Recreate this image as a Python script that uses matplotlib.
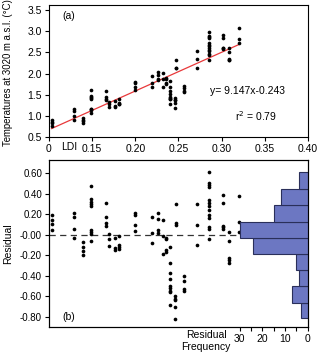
import matplotlib
matplotlib.use('Agg')
import numpy as np
import matplotlib.pyplot as plt
from matplotlib.ticker import FixedLocator, FixedFormatter, MultipleLocator

plt.rcParams['font.family'] = ['Liberation Sans', 'DejaVu Sans']
plt.rcParams['font.size'] = 7

# 数据：LDI 值、温度（°C）与残差，按簇读取
ldi = [0.103] * 4 + [0.129] * 4 + [0.139] * 4 + [0.149] * 9 + [0.166] * 4 + \
      [0.170] * 3 + [0.177] * 3 + [0.181] * 4 + [0.200] * 4 + [0.219] * 3 + \
      [0.226] * 4 + [0.232] * 3 + [0.236] * 4 + [0.240] * 9 + [0.246] * 5 + \
      [0.247] * 3 + [0.257] * 4 + [0.272] * 3 + [0.286] * 13 + [0.302] * 5 + \
      [0.309] * 5 + [0.320] * 3

temps = [0.90, 0.85, 0.82, 0.76,
         1.15, 1.11, 1.00, 0.91,
         0.96, 0.91, 0.87, 0.83,
         1.60, 1.47, 1.44, 1.42, 1.40, 1.17, 1.15, 1.13, 1.06,
         1.59, 1.45, 1.40, 1.37,
         1.32, 1.27, 1.20,
         1.34, 1.24, 1.22,
         1.40, 1.31, 1.29, 1.27,
         1.79, 1.77, 1.68, 1.62,
         1.93, 1.78, 1.68,
         2.03, 1.97, 1.87, 1.84,
         2.02, 1.87, 1.69,
         1.89, 1.88, 1.77, 1.75,
         1.83, 1.68, 1.58, 1.52, 1.45, 1.43, 1.40, 1.39, 1.27,
         1.41, 1.38, 1.37, 1.31, 1.19,
         2.32, 2.14, 2.12,
         1.71, 1.66, 1.58, 1.56,
         2.54, 2.34, 2.14,
         2.98, 2.88, 2.86, 2.84, 2.71, 2.68, 2.65, 2.61, 2.56, 2.53, 2.45, 2.43, 2.33,
         2.91, 2.83, 2.61, 2.60, 2.58,
         2.61, 2.52, 2.35, 2.33, 2.31,
         3.07, 2.82, 2.72]

residuals = [0.19, 0.14, 0.11, 0.05,
             0.21, 0.17, 0.06, -0.03,
             -0.07, -0.12, -0.16, -0.20,
             0.48, 0.35, 0.32, 0.30, 0.28, 0.05, 0.03, 0.01, -0.06,
             0.31, 0.17, 0.12, 0.09,
             0.01, -0.04, -0.11,
             -0.03, -0.13, -0.15,
             -0.01, -0.10, -0.12, -0.14,
             0.21, 0.19, 0.10, 0.04,
             0.17, 0.02, -0.08,
             0.21, 0.15, 0.05, 0.02,
             0.14, -0.01, -0.19,
             -0.03, -0.04, -0.15, -0.17,
             -0.12, -0.27, -0.37, -0.43, -0.50, -0.52, -0.55, -0.56, -0.68,
             -0.60, -0.63, -0.64, -0.70, -0.82,
             0.30, 0.12, 0.10,
             -0.40, -0.45, -0.53, -0.55,
             0.30, 0.10, -0.10,
             0.61, 0.51, 0.49, 0.47, 0.34, 0.31, 0.28, 0.24, 0.19, 0.16, 0.08, 0.06, -0.04,
             0.39, 0.31, 0.09, 0.08, 0.06,
             0.03, -0.06, -0.23, -0.25, -0.27,
             0.38, 0.13, 0.03]

# 拟合直线
slope = 9.147
intercept = -0.243

# 残差直方图
bin_edges = [-0.815, -0.664, -0.50, -0.345, -0.183, -0.031, 0.125, 0.288, 0.451, 0.613]
bin_counts = [3, 7, 4, 5, 24, 30, 15, 12, 4]

x_ticks = [0.10, 0.15, 0.20, 0.25, 0.30, 0.35, 0.40]
x_tick_labels = ['0', '0.15', '0.20', '0.25', '0.30', '0.35', '0.40']
res_ticks = [-0.80, -0.60, -0.40, -0.20, 0.0, 0.20, 0.40, 0.60]
res_tick_labels = ['-0.80', '-0.60', '-0.40', '-0.20', '-0.00', '0.20', '0.40', '0.60']

fig = plt.figure(figsize=(3.2, 3.54), dpi=100)
ax_a = fig.add_axes([0.153, 0.613, 0.809, 0.373])
ax_b = fig.add_axes([0.153, 0.076, 0.809, 0.472])

# (a) 散点与拟合线
ax_a.scatter(ldi, temps, s=7, color='black', zorder=3, linewidths=0)
fit_x = np.array([min(ldi), max(ldi)])
ax_a.plot(fit_x, slope * fit_x + intercept, color='#e8383a', lw=0.9, zorder=2)
ax_a.set_xlim(0.10, 0.40)
ax_a.set_ylim(0.5, 3.62)
ax_a.xaxis.set_major_locator(FixedLocator(x_ticks))
ax_a.xaxis.set_major_formatter(FixedFormatter(x_tick_labels))
ax_a.yaxis.set_major_locator(MultipleLocator(0.5))
ax_a.yaxis.set_major_formatter(plt.FormatStrFormatter('%.1f'))
ax_a.tick_params(direction='out', length=3, width=0.8, labelsize=7.5, pad=2)
ax_a.set_ylabel('Temperatures at 3020 m a.s.l. (°C)', fontsize=6.9)
ax_a.yaxis.set_label_coords(-0.14, 0.49)
ax_a.text(0.124, -0.035, 'LDI', transform=ax_a.get_xaxis_transform(),
          ha='center', va='top', fontsize=7.5)
ax_a.text(0.05, 0.92, '(a)', transform=ax_a.transAxes, fontsize=7.5, va='center')
ax_a.text(0.622, 0.345, 'y= 9.147x-0.243', transform=ax_a.transAxes, fontsize=7.5, va='center')
ax_a.text(0.72, 0.155, 'r$^2$ = 0.79', transform=ax_a.transAxes, fontsize=7.5, va='center')
for sp in ax_a.spines.values():
    sp.set_linewidth(0.8)

# (b) 残差
ax_b.scatter(ldi, residuals, s=7, color='black', zorder=3, linewidths=0)
ax_b.axhline(0, color='#333333', lw=0.9, dashes=(5, 3.5), zorder=1)
ax_b.set_xlim(0.10, 0.40)
ax_b.set_ylim(-0.90, 0.73)
ax_b.yaxis.set_major_locator(FixedLocator(res_ticks))
ax_b.yaxis.set_major_formatter(FixedFormatter(res_tick_labels))
ax_b.tick_params(axis='y', direction='out', length=3, width=0.8, labelsize=7, pad=2)
ax_b.set_ylabel('Residual', fontsize=7.5)
ax_b.yaxis.set_label_coords(-0.14, 0.5)
ax_b.text(0.05, 0.06, '(b)', transform=ax_b.transAxes, fontsize=7.5, va='center')
for sp in ax_b.spines.values():
    sp.set_linewidth(0.8)

# 直方图（右侧，横向）
ax_h = ax_b.twiny()
ax_b.tick_params(axis='x', which='both', bottom=False, top=False,
                 labelbottom=False, labeltop=False)
edges = np.array(bin_edges)
ax_h.barh(edges[:-1], bin_counts, height=np.diff(edges), align='edge',
          color='#6c77c2', edgecolor='#2a2f5a', linewidth=0.8, zorder=2)
ax_h.set_xlim(114, 0)
ax_h.xaxis.set_ticks_position('bottom')
ax_h.xaxis.set_major_locator(FixedLocator([0, 10, 20, 30]))
ax_h.xaxis.set_minor_locator(FixedLocator([5, 15, 25]))
ax_h.tick_params(axis='x', which='both', direction='out', length=3, width=0.8,
                 labelsize=7.5, pad=2)
ax_h.tick_params(axis='x', which='both', top=False)
for sp in ax_h.spines.values():
    sp.set_linewidth(0.8)
fig.text(206 / 320, 1 - 341 / 354, 'Residual\nFrequency', ha='center', va='center',
         fontsize=7.5, linespacing=1.15)

plt.savefig('out.png', dpi=100)
plt.close()
